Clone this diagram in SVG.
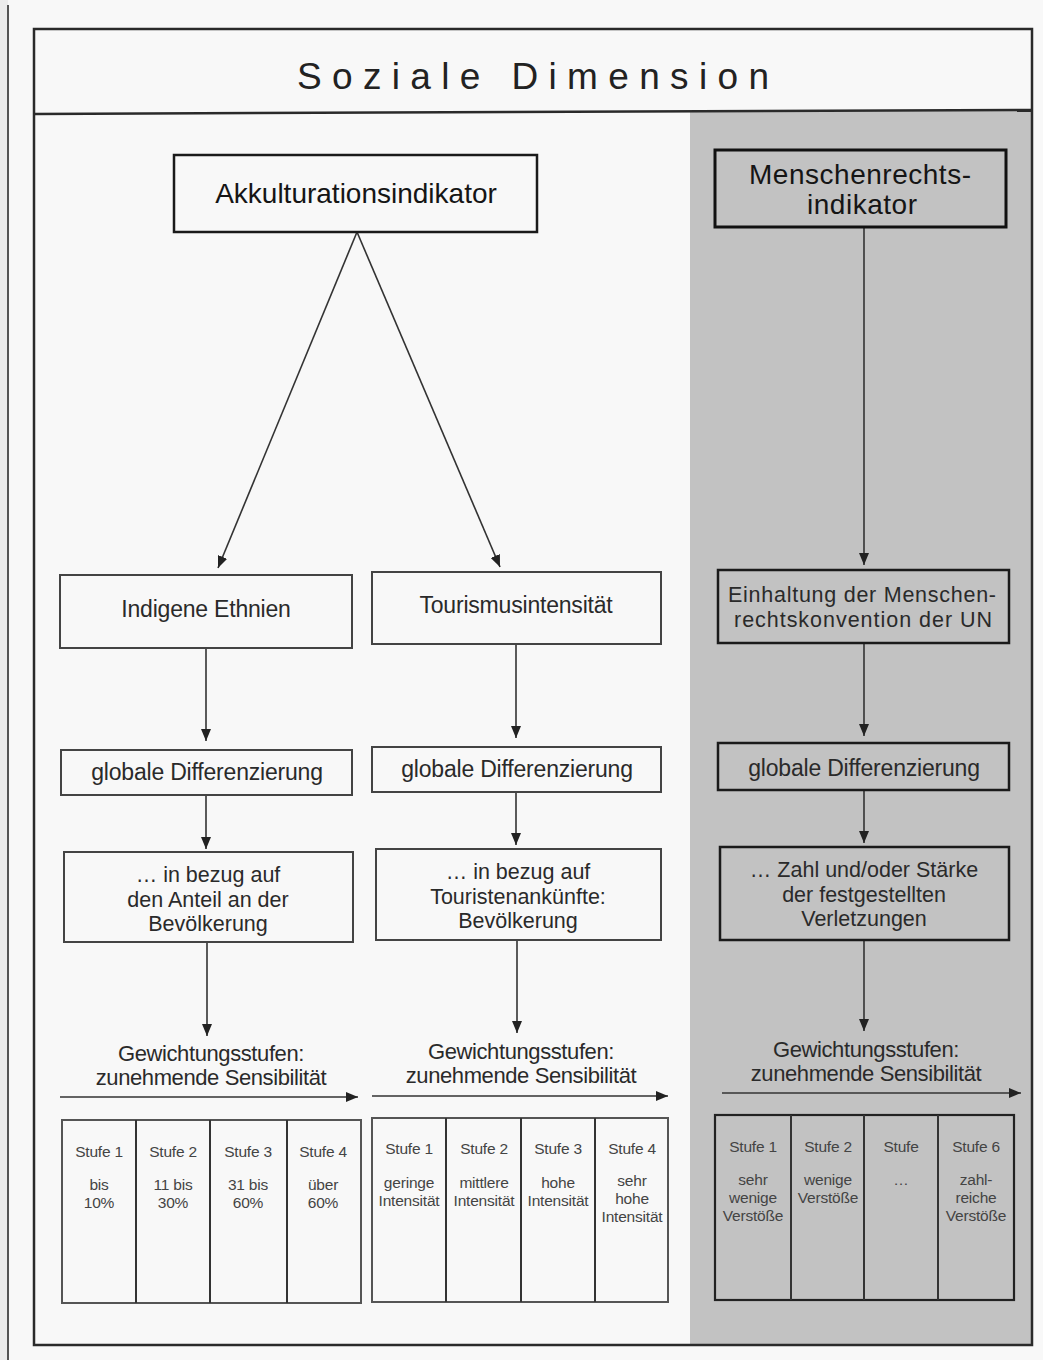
<svg xmlns="http://www.w3.org/2000/svg" width="1043" height="1360" viewBox="0 0 1043 1360">
  <style>
    text { font-family: "Liberation Sans", Arial, sans-serif; fill: #222; text-anchor: middle; }
    .box { fill: none; stroke: #444; stroke-width: 2; }
    .boxd { fill: none; stroke: #1a1a1a; stroke-width: 2.5; }
    .head { font-size: 28px; fill: #151515; }
    .lbl { font-size: 23px; fill: #2a2a2a; letter-spacing: -0.2px; }
    .ml { font-size: 21.5px; fill: #2a2a2a; }
    .gew { font-size: 22px; fill: #2a2a2a; letter-spacing: -0.4px; }
    .cell { font-size: 15.5px; fill: #444; letter-spacing: -0.2px; }
    .tbl { fill: none; stroke: #555; stroke-width: 2; }
    .div { stroke: #333; stroke-width: 2; }
    .conn { stroke: #333; stroke-width: 1.6; fill: none; marker-end: url(#arr); }
    .frame { fill: none; stroke: #2a2a2a; stroke-width: 2.5; }
  </style>
  <defs>
    <marker id="arr" viewBox="0 0 12 10" markerWidth="12" markerHeight="10" refX="12" refY="5" orient="auto" markerUnits="userSpaceOnUse">
      <path d="M0,0 L12,5 L0,10 z" fill="#222"/>
    </marker>
  </defs>

  <!-- paper -->
  <rect x="0" y="0" width="1043" height="1360" fill="#f8f8f8"/>
  <rect x="0" y="0" width="8" height="1360" fill="#ececec"/>
  <line x1="8" y1="5" x2="8" y2="1360" stroke="#555" stroke-width="2"/>

  <!-- shaded column -->
  <rect x="690" y="111" width="342" height="1234" fill="#c2c2c2"/>

  <!-- outer frame and title band -->
  <rect class="frame" x="34" y="29" width="998" height="1316"/>
  <line class="frame" x1="34" y1="114" x2="1032" y2="110"/>
  <text x="533" y="89" font-size="37" fill="#1a1a1a" textLength="472" lengthAdjust="spacing">Soziale Dimension</text>

  <!-- connectors -->
  <g id="connectors">
    <line class="conn" x1="357" y1="232" x2="218" y2="568"/>
    <line class="conn" x1="357" y1="232" x2="500" y2="567"/>
    <line class="conn" x1="864" y1="227" x2="864" y2="565"/>

    <line class="conn" x1="206" y1="648" x2="206" y2="741"/>
    <line class="conn" x1="516" y1="644" x2="516" y2="738"/>
    <line class="conn" x1="864" y1="643" x2="864" y2="736"/>

    <line class="conn" x1="206" y1="795" x2="206" y2="849"/>
    <line class="conn" x1="516" y1="792" x2="516" y2="845"/>
    <line class="conn" x1="864" y1="790" x2="864" y2="843"/>

    <line class="conn" x1="207" y1="942" x2="207" y2="1036"/>
    <line class="conn" x1="517" y1="940" x2="517" y2="1033"/>
    <line class="conn" x1="864" y1="940" x2="864" y2="1031"/>

    <line class="conn" x1="60" y1="1097" x2="358" y2="1097"/>
    <line class="conn" x1="372" y1="1096" x2="668" y2="1096"/>
    <line class="conn" x1="722" y1="1093" x2="1021" y2="1093"/>
  </g>

  <!-- top indicators -->
  <g id="akkulturation">
    <rect class="boxd" x="174" y="155" width="363" height="77"/>
    <text class="head" x="356" y="203">Akkulturationsindikator</text>
  </g>
  <g id="menschenrechte">
    <rect x="715" y="150" width="291" height="77" fill="none" stroke="#111" stroke-width="3"/>
    <text class="head" x="860" y="184" font-size="26" textLength="222" lengthAdjust="spacing">Menschenrechts-</text>
    <text class="head" x="862" y="214" font-size="26" textLength="110" lengthAdjust="spacing">indikator</text>
  </g>

  <!-- second level -->
  <g id="indigene">
    <rect class="box" x="60" y="575" width="292" height="73"/>
    <text class="lbl" x="206" y="617">Indigene Ethnien</text>
  </g>
  <g id="tourismus">
    <rect class="box" x="372" y="572" width="289" height="72"/>
    <text class="lbl" x="516" y="613">Tourismusintensität</text>
  </g>
  <g id="einhaltung">
    <rect class="boxd" x="718" y="570" width="291" height="73"/>
    <text class="ml" x="862" y="602" textLength="268" lengthAdjust="spacing">Einhaltung der Menschen-</text>
    <text class="ml" x="863" y="627" textLength="258" lengthAdjust="spacing">rechtskonvention der UN</text>
  </g>

  <!-- global differentiation -->
  <g id="global-1">
    <rect class="box" x="61" y="750" width="291" height="45"/>
    <text class="lbl" x="207" y="780">globale Differenzierung</text>
  </g>
  <g id="global-2">
    <rect class="box" x="372" y="747" width="289" height="45"/>
    <text class="lbl" x="517" y="777">globale Differenzierung</text>
  </g>
  <g id="global-3">
    <rect class="boxd" x="718" y="743" width="291" height="47"/>
    <text class="lbl" x="864" y="776">globale Differenzierung</text>
  </g>

  <!-- reference basis -->
  <g id="bezug-1">
    <rect class="box" x="64" y="852" width="289" height="90"/>
    <text class="ml" x="208" y="882">… in bezug auf</text>
    <text class="ml" x="208" y="906.5">den Anteil an der</text>
    <text class="ml" x="208" y="931">Bevölkerung</text>
  </g>
  <g id="bezug-2">
    <rect class="box" x="376" y="849" width="285" height="91"/>
    <text class="ml" x="518" y="879">… in bezug auf</text>
    <text class="ml" x="518" y="903.5">Touristenankünfte:</text>
    <text class="ml" x="518" y="928">Bevölkerung</text>
  </g>
  <g id="bezug-3">
    <rect class="boxd" x="720" y="847" width="289" height="93"/>
    <text class="ml" x="864" y="877">… Zahl und/oder Stärke</text>
    <text class="ml" x="864" y="901.5">der festgestellten</text>
    <text class="ml" x="864" y="926">Verletzungen</text>
  </g>

  <!-- weighting captions -->
  <g id="gewichtung-1">
    <text class="gew" x="211" y="1061">Gewichtungsstufen:</text>
    <text class="gew" x="211" y="1085">zunehmende Sensibilität</text>
  </g>
  <g id="gewichtung-2">
    <text class="gew" x="521" y="1059">Gewichtungsstufen:</text>
    <text class="gew" x="521" y="1083">zunehmende Sensibilität</text>
  </g>
  <g id="gewichtung-3">
    <text class="gew" x="866" y="1057">Gewichtungsstufen:</text>
    <text class="gew" x="866" y="1081">zunehmende Sensibilität</text>
  </g>

  <!-- level tables -->
  <g id="stufen-1">
    <rect class="tbl" x="62" y="1120" width="299" height="183"/>
    <line class="div" x1="136" y1="1120" x2="136" y2="1303"/>
    <line class="div" x1="210" y1="1120" x2="210" y2="1303"/>
    <line class="div" x1="287" y1="1120" x2="287" y2="1303"/>
    <text class="cell" x="99" y="1157">Stufe 1</text>
    <text class="cell" x="99" y="1190">bis</text>
    <text class="cell" x="99" y="1208">10%</text>
    <text class="cell" x="173" y="1157">Stufe 2</text>
    <text class="cell" x="173" y="1190">11 bis</text>
    <text class="cell" x="173" y="1208">30%</text>
    <text class="cell" x="248" y="1157">Stufe 3</text>
    <text class="cell" x="248" y="1190">31 bis</text>
    <text class="cell" x="248" y="1208">60%</text>
    <text class="cell" x="323" y="1157">Stufe 4</text>
    <text class="cell" x="323" y="1190">über</text>
    <text class="cell" x="323" y="1208">60%</text>
  </g>
  <g id="stufen-2">
    <rect class="tbl" x="372" y="1118" width="296" height="184"/>
    <line class="div" x1="446" y1="1118" x2="446" y2="1302"/>
    <line class="div" x1="521" y1="1118" x2="521" y2="1302"/>
    <line class="div" x1="595" y1="1118" x2="595" y2="1302"/>
    <text class="cell" x="409" y="1154">Stufe 1</text>
    <text class="cell" x="409" y="1188">geringe</text>
    <text class="cell" x="409" y="1206">Intensität</text>
    <text class="cell" x="484" y="1154">Stufe 2</text>
    <text class="cell" x="484" y="1188">mittlere</text>
    <text class="cell" x="484" y="1206">Intensität</text>
    <text class="cell" x="558" y="1154">Stufe 3</text>
    <text class="cell" x="558" y="1188">hohe</text>
    <text class="cell" x="558" y="1206">Intensität</text>
    <text class="cell" x="632" y="1154">Stufe 4</text>
    <text class="cell" x="632" y="1186">sehr</text>
    <text class="cell" x="632" y="1204">hohe</text>
    <text class="cell" x="632" y="1222">Intensität</text>
  </g>
  <g id="stufen-3">
    <rect x="715" y="1115" width="299" height="185" fill="none" stroke="#222" stroke-width="2.2"/>
    <line class="div" x1="791" y1="1115" x2="791" y2="1300" stroke="#111"/>
    <line class="div" x1="864" y1="1115" x2="864" y2="1300" stroke="#111"/>
    <line class="div" x1="938" y1="1115" x2="938" y2="1300" stroke="#111"/>
    <text class="cell" x="753" y="1152" fill="#222">Stufe 1</text>
    <text class="cell" x="753" y="1185" fill="#222">sehr</text>
    <text class="cell" x="753" y="1203" fill="#222">wenige</text>
    <text class="cell" x="753" y="1221" fill="#222">Verstöße</text>
    <text class="cell" x="828" y="1152" fill="#222">Stufe 2</text>
    <text class="cell" x="828" y="1185" fill="#222">wenige</text>
    <text class="cell" x="828" y="1203" fill="#222">Verstöße</text>
    <text class="cell" x="901" y="1152" fill="#222">Stufe</text>
    <text class="cell" x="901" y="1185" fill="#555">…</text>
    <text class="cell" x="976" y="1152" fill="#222">Stufe 6</text>
    <text class="cell" x="976" y="1185" fill="#222">zahl-</text>
    <text class="cell" x="976" y="1203" fill="#222">reiche</text>
    <text class="cell" x="976" y="1221" fill="#222">Verstöße</text>
  </g>
</svg>
